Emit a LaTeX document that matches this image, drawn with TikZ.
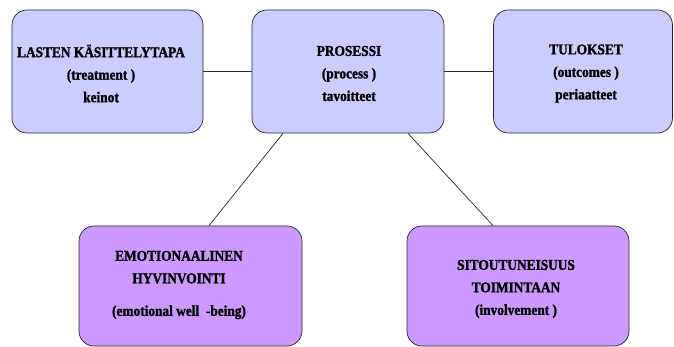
\documentclass[tikz,border=0pt]{standalone}
\usepackage{fontspec}
\setmainfont{Liberation Serif}
\newfontfamily\boxfont{Liberation Serif}[FakeStretch=0.89,FakeBold=1.4]
\begin{document}
\begin{tikzpicture}[x=1pt,y=-1pt,
  boxa/.style={draw=black!85,line width=0.7pt,rounded corners=15pt,fill=topfill,inner sep=0pt},
  boxb/.style={draw=black!85,line width=0.7pt,rounded corners=15pt,fill=botfill,inner sep=0pt},
  lbl/.style={align=center,font=\boxfont\bfseries\fontsize{15}{22.5}\selectfont,inner sep=0pt,text=black},
  conn/.style={draw=black!85,line width=0.7pt}]
\definecolor{topfill}{HTML}{CCCCFF}
\definecolor{botfill}{HTML}{CC99FF}
\useasboundingbox (0,0) rectangle (674,347);
\node[boxa,minimum width=191pt,minimum height=123pt] (b1) at (107.5,71.5) {};
\node[boxa,minimum width=192pt,minimum height=123pt] (b2) at (348,71.5) {};
\node[boxa,minimum width=179pt,minimum height=123pt] (b3) at (583,71.5) {};
\node[boxb,minimum width=223pt,minimum height=120pt] (b4) at (190.5,286) {};
\node[boxb,minimum width=222pt,minimum height=120pt] (b5) at (518,286) {};
\node[lbl] (t1) at (101,73.5) {LASTEN KÄSITTELYTAPA\\(treatment )\\keinot};
\node[lbl] (t2) at (349,73.5) {PROSESSI\\(process )\\tavoitteet};
\node[lbl] (t3) at (586,73.5) {TULOKSET\\(outcomes )\\periaatteet};
\node[lbl] (t4) at (179,285) {EMOTIONAALINEN\\HYVINVOINTI\\[10pt](emotional well\ \ -being)};
\node[lbl] (t5) at (516,289) {SITOUTUNEISUUS\\TOIMINTAAN\\(involvement )};
\draw[conn] (b1.east) -- (b2.west);
\draw[conn] (b2.east) -- (b3.west);
\draw[conn] ([xshift=-65pt]b2.south) -- ([xshift=18.5pt]b4.north);
\draw[conn] ([xshift=60pt]b2.south) -- ([xshift=-25pt]b5.north);
\end{tikzpicture}
\end{document}
